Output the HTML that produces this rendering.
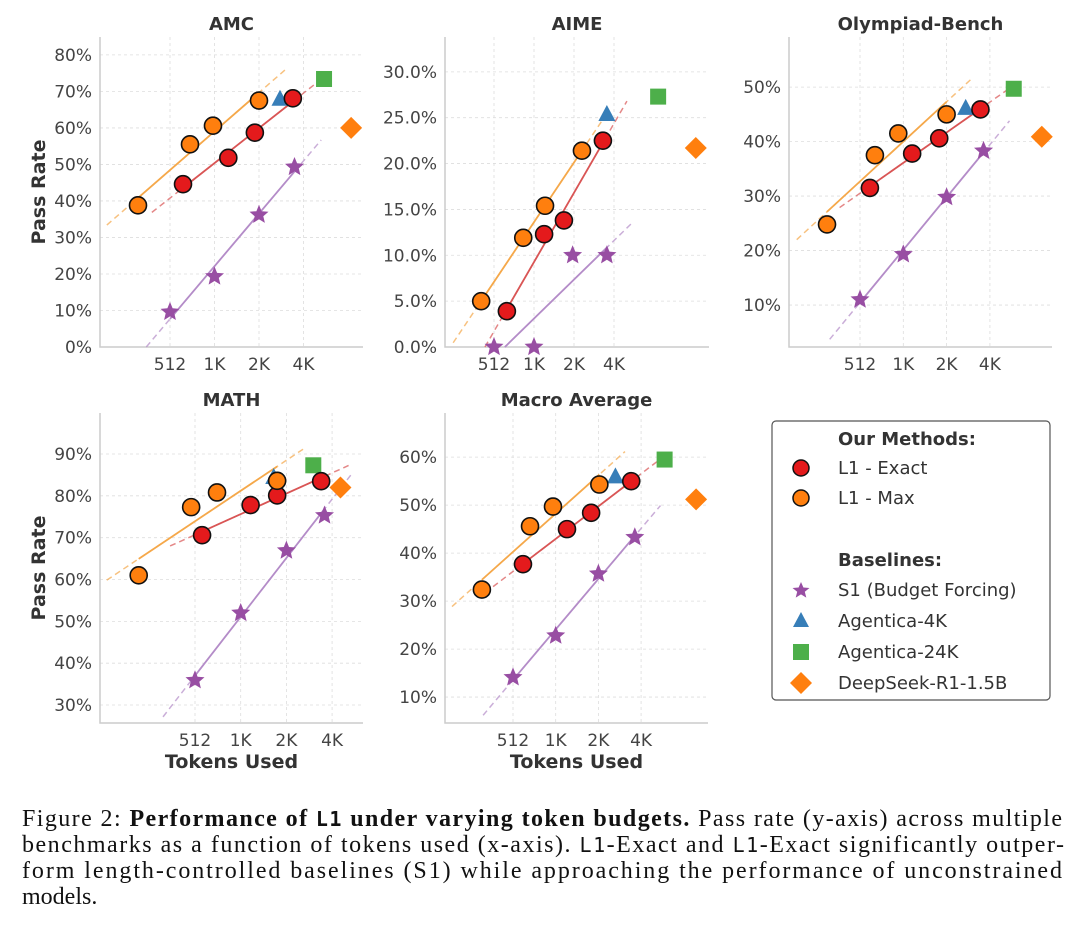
<!DOCTYPE html>
<html><head><meta charset="utf-8">
<style>
html,body{margin:0;padding:0;background:#fff;}
svg{display:block;}
</style></head>
<body>
<svg id="fig" width="1080" height="929" viewBox="0 0 1080 929" xmlns="http://www.w3.org/2000/svg" font-family="DejaVu Sans, Liberation Sans, sans-serif">
<g id="panels"></g>
<g id="legend">
  <rect x="772" y="421" width="278" height="279" rx="4" fill="#fff" stroke="#555" stroke-width="1.2"/>
  <text x="838" y="445" font-size="18" font-weight="bold" fill="#333">Our Methods:</text>
  <circle cx="801" cy="468" r="8" fill="#e41a1c" stroke="#111" stroke-width="1.5"/>
  <text x="838" y="474" font-size="18" fill="#333">L1 - Exact</text>
  <circle cx="801" cy="498" r="8" fill="#ff7f0e" stroke="#111" stroke-width="1.5"/>
  <text x="838" y="504" font-size="18" fill="#333">L1 - Max</text>
  <text x="838" y="566" font-size="18" font-weight="bold" fill="#333">Baselines:</text>
  <path d="M801,582 L803.4,587.5 L809.5,588 L804.8,591.8 L806.3,597.6 L801,594.4 L795.7,597.6 L797.2,591.8 L792.5,588 L798.6,587.5 Z" fill="#984ea3"/>
  <text x="838" y="596" font-size="18" fill="#333">S1 (Budget Forcing)</text>
  <path d="M801,612 L809,627 L793,627 Z" fill="#377eb8"/>
  <text x="838" y="627" font-size="18" fill="#333">Agentica-4K</text>
  <rect x="793" y="644" width="16" height="16" fill="#4daf4a"/>
  <text x="838" y="658" font-size="18" fill="#333">Agentica-24K</text>
  <path d="M801,672 L812,683 L801,694 L790,683 Z" fill="#ff7f0e"/>
  <text x="838" y="689" font-size="18" fill="#333">DeepSeek-R1-1.5B</text>
</g>
<g id="caption" font-family="Liberation Serif, serif" font-size="24" fill="#111">
  <text x="22" y="826" textLength="1040" lengthAdjust="spacing">Figure 2: <tspan font-weight="bold">Performance of <tspan font-family="DejaVu Sans Mono, Liberation Mono, monospace" font-size="20">L1</tspan> under varying token budgets.</tspan> Pass rate (y-axis) across multiple</text>
  <text x="22" y="852" textLength="1042" lengthAdjust="spacing">benchmarks as a function of tokens used (x-axis). <tspan font-family="DejaVu Sans Mono, Liberation Mono, monospace" font-size="20">L1</tspan>-Exact and <tspan font-family="DejaVu Sans Mono, Liberation Mono, monospace" font-size="20">L1</tspan>-Exact significantly outper-</text>
  <text x="22" y="878" textLength="1040" lengthAdjust="spacing">form length-controlled baselines (S1) while approaching the performance of unconstrained</text>
  <text x="22" y="904">models.</text>
</g>
</svg>
<script>
// ---- data (tokens used, pass rate %) ----
const xTickTokens = [512, 1024, 2048, 4096];
const xTickLabels = ["512", "1K", "2K", "4K"];

const amcMaxTokens = [311, 699, 1000, 2048];
const amcMaxRate = [38.8, 55.5, 60.6, 67.5];
const amcExactTokens = [627, 1270, 1920, 3470];
const amcExactRate = [44.6, 51.8, 58.7, 68.1];
const amcS1Tokens = [512, 1024, 2048, 3560];
const amcS1Rate = [9.6, 19.3, 36.2, 49.3];
const amcAg4k = [2840, 68.0];
const amcAg24k = [5640, 73.4];
const amcDeepseek = [8600, 60.0];
const amcYTicks = [0, 10, 20, 30, 40, 50, 60, 70, 80];

const aimeMaxTokens = [410, 850, 1240, 2350];
const aimeMaxRate = [5.0, 11.9, 15.4, 21.4];
const aimeExactTokens = [640, 1220, 1720, 3380];
const aimeExactRate = [3.9, 12.3, 13.8, 22.5];
const aimeS1Tokens = [512, 1024, 2000, 3620];
const aimeS1Rate = [0.0, 0.0, 10.0, 10.0];
const aimeAg4k = [3620, 25.4];
const aimeAg24k = [8800, 27.3];
const aimeDeepseek = [16900, 21.7];
const aimeYTicks = [0, 5, 10, 15, 20, 25, 30];

const olyMaxTokens = [302, 650, 945, 2048];
const olyMaxRate = [24.8, 37.5, 41.5, 45.0];
const olyExactTokens = [600, 1180, 1820, 3520];
const olyExactRate = [31.5, 37.8, 40.6, 45.9];
const olyS1Tokens = [512, 1024, 2048, 3700];
const olyS1Rate = [11.0, 19.3, 29.8, 38.3];
const olyAg4k = [2780, 46.2];
const olyAg24k = [6000, 49.7];
const olyDeepseek = [9400, 40.9];
const olyYTicks = [10, 20, 30, 40, 50];

const mathMaxTokens = [218, 483, 715, 1780];
const mathMaxRate = [61.0, 77.3, 80.8, 83.6];
const mathExactTokens = [570, 1190, 1780, 3470];
const mathExactRate = [70.6, 77.8, 80.1, 83.5];
const mathS1Tokens = [512, 1024, 2048, 3650];
const mathS1Rate = [35.9, 52.0, 66.9, 75.3];
const mathAg4k = [1690, 84.5];
const mathAg24k = [3080, 87.3];
const mathDeepseek = [4650, 82.0];
const mathYTicks = [30, 40, 50, 60, 70, 80, 90];

const macroMaxTokens = [309, 675, 980, 2080];
const macroMaxRate = [32.4, 45.6, 49.7, 54.3];
const macroExactTokens = [602, 1230, 1820, 3490];
const macroExactRate = [37.7, 45.0, 48.4, 55.0];
const macroS1Tokens = [512, 1024, 2048, 3700];
const macroS1Rate = [14.1, 22.8, 35.7, 43.3];
const macroAg4k = [2700, 56.0];
const macroAg24k = [6000, 59.5];
const macroDeepseek = [10000, 51.2];
const macroYTicks = [10, 20, 30, 40, 50, 60];

// ---- layout (geometry, not data) ----
const panels = [
 {id:"amc", title:"AMC", L:100,R:363,T:37,B:347, x512:170, oct:44.5, ymin:0, ymax:84.9, dec:0, ylab:true, xlab:false,
  max:[amcMaxTokens,amcMaxRate], ex:[amcExactTokens,amcExactRate], s1:[amcS1Tokens,amcS1Rate], a4:amcAg4k, a24:amcAg24k, ds:amcDeepseek, yt:amcYTicks},
 {id:"aime", title:"AIME", L:445,R:709,T:37,B:347, x512:494, oct:40, ymin:0, ymax:33.8, dec:1, ylab:false, xlab:false,
  max:[aimeMaxTokens,aimeMaxRate], ex:[aimeExactTokens,aimeExactRate], s1:[aimeS1Tokens,aimeS1Rate], a4:aimeAg4k, a24:aimeAg24k, ds:aimeDeepseek, yt:aimeYTicks},
 {id:"olympiad", title:"Olympiad-Bench", L:789,R:1052,T:37,B:347, x512:860, oct:43.3, ymin:2.3, ymax:59.2, dec:0, ylab:false, xlab:false,
  max:[olyMaxTokens,olyMaxRate], ex:[olyExactTokens,olyExactRate], s1:[olyS1Tokens,olyS1Rate], a4:olyAg4k, a24:olyAg24k, ds:olyDeepseek, yt:olyYTicks},
 {id:"math", title:"MATH", L:100,R:363,T:413,B:723, x512:195, oct:45.7, ymin:25.7, ymax:99.8, dec:0, ylab:true, xlab:true,
  max:[mathMaxTokens,mathMaxRate], ex:[mathExactTokens,mathExactRate], s1:[mathS1Tokens,mathS1Rate], a4:mathAg4k, a24:mathAg24k, ds:mathDeepseek, yt:mathYTicks},
 {id:"macro", title:"Macro Average", L:445,R:708,T:413,B:723, x512:513, oct:42.7, ymin:4.6, ymax:69.2, dec:0, ylab:false, xlab:true,
  max:[macroMaxTokens,macroMaxRate], ex:[macroExactTokens,macroExactRate], s1:[macroS1Tokens,macroS1Rate], a4:macroAg4k, a24:macroAg24k, ds:macroDeepseek, yt:macroYTicks}
];

const NS = "http://www.w3.org/2000/svg";
const root = document.getElementById("panels");
function mk(tag, attrs, parent){
  const e = document.createElementNS(NS, tag);
  for (const k in attrs) e.setAttribute(k, attrs[k]);
  parent.appendChild(e);
  return e;
}
function fit(xs, ys){
  const n = xs.length; let mx=0,my=0;
  for (let i=0;i<n;i++){mx+=xs[i];my+=ys[i];}
  mx/=n; my/=n; let sxy=0,sxx=0;
  for (let i=0;i<n;i++){sxy+=(xs[i]-mx)*(ys[i]-my);sxx+=(xs[i]-mx)**2;}
  const b = sxy/sxx; return {a:my-b*mx, b:b};
}
function starPath(cx, cy, r){
  let d = "";
  for (let i=0;i<10;i++){
    const rr = i%2===0 ? r : r*0.45;
    const ang = -Math.PI/2 + i*Math.PI/5;
    d += (i===0?"M":"L") + (cx+rr*Math.cos(ang)).toFixed(1) + "," + (cy+rr*Math.sin(ang)).toFixed(1);
  }
  return d + "Z";
}

panels.forEach(p => {
  const g = mk("g", {}, root);
  
  
  const xs = t => p.x512 + (Math.log2(t) - 9) * p.oct;
  const ys = v => p.B - (v - p.ymin) / (p.ymax - p.ymin) * (p.B - p.T);

  xTickTokens.forEach((t, i) => {
    const x = xs(t);
    const gl = mk("line", {x1:x, x2:x, y1:p.T, y2:p.B, stroke:"#ddd", "stroke-width":0.8, "stroke-dasharray":"3,3"}, g);
    
    
    const tl = mk("text", {x:x, y:p.B+23, "text-anchor":"middle", "font-size":17, fill:"#444"}, g);
    tl.textContent = xTickLabels[i];
    
    
  });
  p.yt.forEach(v => {
    const y = ys(v);
    const gl = mk("line", {x1:p.L, x2:p.R, y1:y, y2:y, stroke:"#ddd", "stroke-width":0.8, "stroke-dasharray":"3,3"}, g);
    
    
    const tl = mk("text", {x:p.L-8, y:y+6, "text-anchor":"end", "font-size":17, fill:"#444"}, g);
    tl.textContent = v.toFixed(p.dec) + "%";
    
    
  });
  const sp = mk("path", {d:`M${p.L},${p.T} L${p.L},${p.B} L${p.R},${p.B}`, fill:"none", stroke:"#ccc", "stroke-width":1.5}, g);
  
  
  const tt = mk("text", {x:(p.L+p.R)/2, y:p.T-7, "text-anchor":"middle", "font-size":18, "font-weight":"bold", fill:"#333"}, g);
  tt.textContent = p.title;
  
  
  if (p.ylab){
    const yl = mk("text", {x:0, y:0, transform:`translate(45,${(p.T+p.B)/2}) rotate(-90)`, "text-anchor":"middle", "font-size":19, "font-weight":"bold", fill:"#333"}, g);
    yl.textContent = "Pass Rate";
    
    
  }
  if (p.xlab){
    const xl = mk("text", {x:(p.L+p.R)/2, y:p.B+45, "text-anchor":"middle", "font-size":19, "font-weight":"bold", fill:"#333"}, g);
    xl.textContent = "Tokens Used";
    
    
  }

  const series = [
    {d:p.s1, color:"#b48cc8", name:"s1"},
    {d:p.ex, color:"#d95555", name:"l1-exact"},
    {d:p.max, color:"#f5a84a", name:"l1-max"}
  ];
  series.forEach(s => {
    const lx = s.d[0].map(t => Math.log2(t));
    const f = fit(lx, s.d[1]);
    let x0 = Math.min(...lx), x1 = Math.max(...lx);
    let e0 = x0 - 0.7, e1 = x1 + 0.6;
    const yAt = x => f.a + f.b*x;
    const clip = x => { const v = yAt(x); if (v < p.ymin && f.b > 0) return (p.ymin - f.a)/f.b; return x; };
    e0 = Math.max(e0, clip(e0)); x0 = Math.max(x0, clip(x0));
    const px = x => p.x512 + (x-9)*p.oct;
    const dl = mk("line", {x1:px(e0), y1:ys(yAt(e0)), x2:px(e1), y2:ys(yAt(e1)), stroke:s.color, "stroke-width":1.5, "stroke-dasharray":"6,4", opacity:0.7}, g);
    
    
    const sl = mk("line", {x1:px(x0), y1:ys(yAt(x0)), x2:px(x1), y2:ys(yAt(x1)), stroke:s.color, "stroke-width":1.8}, g);
    
    
  });

  const tri = mk("path", {d:`M${xs(p.a4[0])},${ys(p.a4[1])-9} L${xs(p.a4[0])+8.5},${ys(p.a4[1])+7} L${xs(p.a4[0])-8.5},${ys(p.a4[1])+7} Z`, fill:"#377eb8"}, g);
  
  
  const sq = mk("rect", {x:xs(p.a24[0])-8, y:ys(p.a24[1])-8, width:16, height:16, fill:"#4daf4a"}, g);
  
  
  const dx = xs(p.ds[0]), dy = ys(p.ds[1]);
  const dm = mk("path", {d:`M${dx},${dy-11} L${dx+11},${dy} L${dx},${dy+11} L${dx-11},${dy} Z`, fill:"#ff7f0e"}, g);
  
  

  p.s1[0].forEach((t, i) => {
    const st = mk("path", {d:starPath(xs(t), ys(p.s1[1][i]), 10), fill:"#984ea3"}, g);
    
    
  });
  p.ex[0].forEach((t, i) => {
    const c = mk("circle", {cx:xs(t), cy:ys(p.ex[1][i]), r:8.5, fill:"#e41a1c", stroke:"#111", "stroke-width":1.6}, g);
    
    
  });
  p.max[0].forEach((t, i) => {
    const c = mk("circle", {cx:xs(t), cy:ys(p.max[1][i]), r:8.5, fill:"#ff7f0e", stroke:"#111", "stroke-width":1.6}, g);
    
    
  });
});
</script>
</body></html>
